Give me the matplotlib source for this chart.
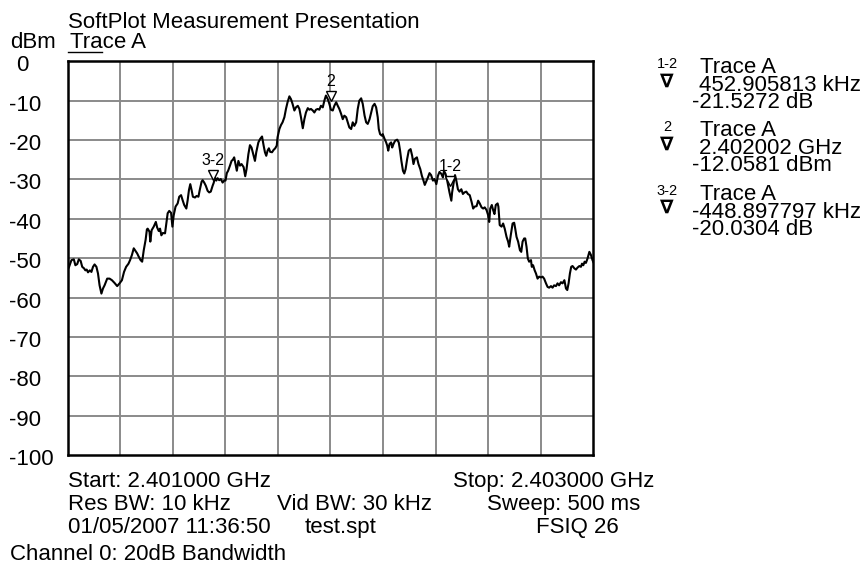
import matplotlib
matplotlib.use("Agg")
import matplotlib.pyplot as plt
from matplotlib.transforms import offset_copy, blended_transform_factory
from matplotlib.lines import Line2D
import numpy as np

plt.rcParams['font.family'] = ['Liberation Sans', 'DejaVu Sans']

# ---------------- data ----------------
start_mhz = 2401.0
stop_mhz = 2403.0

freq_offset_mhz = [
    0.000, 0.005, 0.015, 0.024, 0.030, 0.037, 0.043, 0.050, 0.056, 0.063,
    0.068, 0.073, 0.078, 0.085, 0.091, 0.097, 0.103, 0.110, 0.116, 0.122,
    0.129, 0.135, 0.141, 0.151, 0.160, 0.169, 0.179, 0.189, 0.198, 0.207,
    0.215, 0.223, 0.232, 0.238, 0.245, 0.252, 0.259, 0.265, 0.270, 0.278,
    0.284, 0.290, 0.297, 0.302, 0.305, 0.312, 0.315, 0.320, 0.328, 0.336,
    0.341, 0.347, 0.352, 0.357, 0.363, 0.371, 0.376, 0.381, 0.387, 0.394,
    0.399, 0.404, 0.411, 0.419, 0.425, 0.432, 0.438, 0.444, 0.452, 0.457,
    0.462, 0.467, 0.472, 0.477, 0.485, 0.491, 0.498, 0.503, 0.510, 0.514,
    0.520, 0.526, 0.533, 0.539, 0.545, 0.552, 0.556, 0.561, 0.566, 0.571,
    0.577, 0.583, 0.590, 0.596, 0.601, 0.606, 0.611, 0.618, 0.624, 0.629,
    0.634, 0.639, 0.644, 0.650, 0.656, 0.662, 0.670, 0.676, 0.681, 0.688,
    0.694, 0.700, 0.708, 0.713, 0.718, 0.726, 0.733, 0.740, 0.746, 0.751,
    0.756, 0.761, 0.766, 0.771, 0.778, 0.784, 0.790, 0.796, 0.799, 0.806,
    0.812, 0.818, 0.825, 0.831, 0.837, 0.844, 0.850, 0.856, 0.863, 0.869,
    0.876, 0.882, 0.888, 0.895, 0.901, 0.907, 0.914, 0.920, 0.926, 0.933,
    0.939, 0.945, 0.952, 0.958, 0.964, 0.971, 0.977, 0.983, 0.990, 0.996,
    1.002, 1.009, 1.015, 1.022, 1.028, 1.034, 1.041, 1.047, 1.053, 1.060,
    1.066, 1.072, 1.079, 1.085, 1.091, 1.098, 1.104, 1.110, 1.117, 1.123,
    1.130, 1.136, 1.142, 1.149, 1.155, 1.161, 1.168, 1.174, 1.180, 1.184,
    1.189, 1.196, 1.199, 1.206, 1.212, 1.216, 1.220, 1.225, 1.231, 1.235,
    1.240, 1.246, 1.254, 1.260, 1.265, 1.270, 1.276, 1.281, 1.286, 1.292,
    1.298, 1.305, 1.311, 1.316, 1.321, 1.329, 1.335, 1.342, 1.348, 1.354,
    1.359, 1.364, 1.371, 1.377, 1.383, 1.390, 1.396, 1.403, 1.409, 1.415,
    1.422, 1.428, 1.432, 1.438, 1.443, 1.448, 1.453, 1.460, 1.463, 1.469,
    1.474, 1.479, 1.485, 1.491, 1.498, 1.504, 1.510, 1.517, 1.523, 1.530,
    1.537, 1.543, 1.549, 1.556, 1.562, 1.568, 1.575, 1.581, 1.587, 1.594,
    1.600, 1.604, 1.608, 1.614, 1.619, 1.624, 1.629, 1.636, 1.639, 1.644,
    1.651, 1.657, 1.663, 1.670, 1.676, 1.680, 1.686, 1.693, 1.699, 1.703,
    1.708, 1.714, 1.721, 1.726, 1.731, 1.737, 1.741, 1.746, 1.751, 1.756,
    1.763, 1.766, 1.771, 1.777, 1.782, 1.788, 1.794, 1.801, 1.807, 1.813,
    1.820, 1.826, 1.832, 1.839, 1.845, 1.851, 1.858, 1.864, 1.870, 1.877,
    1.883, 1.890, 1.896, 1.901, 1.906, 1.911, 1.916, 1.921, 1.928, 1.934,
    1.940, 1.947, 1.953, 1.957, 1.962, 1.967, 1.972, 1.978, 1.985, 1.991,
    1.997, 2.000,
]

level_dbm = [
    -52.9, -52.4, -50.5, -50.3, -51.8, -51.5, -50.3, -50.7, -52.2, -52.6,
    -53.1, -52.9, -53.6, -53.1, -53.5, -52.2, -51.6, -52.2, -53.9, -56.9,
    -59.0, -57.7, -56.9, -55.2, -55.2, -55.6, -56.3, -57.1, -56.4, -55.6,
    -53.5, -52.2, -51.4, -50.5, -49.2, -47.5, -48.2, -48.8, -49.5, -50.5,
    -50.9, -48.0, -45.4, -42.7, -42.5, -43.3, -45.8, -42.9, -42.0, -40.8,
    -42.2, -43.1, -42.5, -44.2, -43.6, -43.7, -41.2, -38.6, -38.0, -38.5,
    -42.0, -39.1, -36.9, -36.1, -34.4, -34.0, -35.3, -36.5, -37.4, -35.3,
    -32.7, -31.2, -32.7, -34.4, -34.6, -34.2, -34.4, -32.7, -30.6, -30.2,
    -30.8, -31.6, -32.9, -33.3, -33.1, -31.6, -30.9, -29.5, -30.3, -29.7,
    -30.2, -29.9, -30.8, -30.3, -30.3, -28.4, -27.8, -26.5, -25.3, -25.0,
    -24.4, -26.1, -27.8, -25.3, -26.5, -26.1, -26.9, -29.2, -27.4, -23.6,
    -21.3, -21.9, -24.0, -25.3, -23.1, -20.6, -19.7, -19.1, -21.4, -23.1,
    -24.0, -22.7, -22.1, -23.0, -23.1, -22.5, -22.1, -21.4, -19.3, -17.2,
    -16.2, -15.5, -14.2, -12.1, -10.4, -8.9, -9.6, -10.8, -12.5, -11.7,
    -11.3, -12.1, -14.2, -17.0, -14.7, -13.0, -11.9, -12.3, -12.1, -12.5,
    -13.0, -12.3, -12.1, -12.3, -11.3, -11.7, -10.0, -8.7, -9.6, -10.8,
    -12.3, -12.5, -11.3, -10.4, -11.3, -12.1, -13.4, -14.7, -13.8, -14.2,
    -15.5, -16.8, -17.2, -15.5, -16.4, -15.5, -12.1, -10.0, -9.4, -10.8,
    -13.8, -15.5, -15.9, -14.7, -13.0, -11.4, -10.8, -11.7, -14.2, -17.2,
    -18.5, -18.9, -18.5, -19.7, -20.6, -21.4, -22.7, -21.0, -20.6, -21.9,
    -21.0, -20.2, -19.9, -20.6, -22.7, -25.3, -27.8, -28.5, -27.4, -24.8,
    -22.7, -22.3, -24.0, -26.1, -24.8, -24.4, -26.1, -27.4, -29.1, -30.3,
    -31.4, -30.6, -29.5, -28.4, -28.9, -30.3, -29.9, -31.2, -29.1, -28.1,
    -28.6, -29.5, -27.8, -28.6, -29.9, -31.6, -33.3, -35.4, -33.3, -30.8,
    -28.9, -30.3, -32.5, -33.1, -32.5, -33.7, -33.3, -33.1, -33.7, -34.0,
    -35.7, -37.4, -36.9, -36.8, -35.4, -36.1, -37.1, -37.4, -37.1, -37.8,
    -39.1, -40.8, -37.4, -36.5, -37.8, -38.8, -36.5, -36.1, -36.9, -41.6,
    -42.0, -41.2, -42.5, -44.6, -45.8, -47.1, -44.2, -41.2, -41.0, -42.5,
    -44.6, -45.8, -48.0, -48.4, -45.8, -45.0, -45.0, -47.1, -50.1, -50.9,
    -50.5, -52.2, -51.8, -53.1, -53.9, -55.2, -54.7, -54.9, -54.7, -55.2,
    -56.4, -57.3, -57.5, -57.1, -57.5, -56.9, -57.1, -56.4, -56.9, -56.1,
    -56.4, -55.6, -57.7, -58.1, -56.4, -53.9, -52.2, -52.0, -52.6, -52.9,
    -52.4, -52.0, -52.2, -51.4, -51.8, -50.9, -51.2, -50.1, -48.4, -49.2,
    -50.5, -51.0,
]

marker_names = ["1-2", "2", "3-2"]
marker_freq_mhz = [2402.455, 2402.002, 2401.553]
marker_level_dbm = [-33.585, -12.058, -32.089]

readout_line1 = ["Trace A", "Trace A", "Trace A"]
readout_line2 = ["452.905813 kHz", "2.402002 GHz", "-448.897797 kHz"]
readout_line3 = ["-21.5272 dB", "-12.0581 dBm", "-20.0304 dB"]

y_ticks = [0, -10, -20, -30, -40, -50, -60, -70, -80, -90, -100]
x_divisions = 10

title_text = "SoftPlot Measurement Presentation"
unit_text = "dBm"
trace_text = "Trace A"
info_left = ["Start: 2.401000 GHz", "Res BW: 10 kHz", "01/05/2007 11:36:50"]
info_mid = ["Vid BW: 30 kHz", "test.spt"]
info_right = ["Stop: 2.403000 GHz", "Sweep: 500 ms", "FSIQ 26"]
footer_text = "Channel 0: 20dB Bandwidth"

# ---------------- figure ----------------
W, H = 866, 567
fig = plt.figure(figsize=(W / 100, H / 100), dpi=100)

def P(x, y):
    return (x / W, 1 - y / H)

ax_l, ax_r, ax_t, ax_b = 67.5, 593.3, 61.3, 455.0
ax = fig.add_axes([ax_l / W, 1 - ax_b / H, (ax_r - ax_l) / W, (ax_b - ax_t) / H])
ax.set_xlim(start_mhz, stop_mhz)
ax.set_ylim(-100, 0)

# grid
xs = np.linspace(start_mhz, stop_mhz, x_divisions + 1)
for xv in xs[1:-1]:
    ax.axvline(xv, color='#8a8a8a', lw=1.4, zorder=1)
for yv in y_ticks[1:-1]:
    ax.axhline(yv, color='#8a8a8a', lw=1.4, zorder=1)
ax.set_xticks([])
ax.set_yticks([])
for s in ax.spines.values():
    s.set_linewidth(1.8)
    s.set_color('black')
    s.set_zorder(5)

# trace
fx = [start_mhz + f for f in freq_offset_mhz]
ax.plot(fx, level_dbm, color='black', lw=1.5, zorder=3, solid_joinstyle='round')

# markers
tri_tr = offset_copy(ax.transData, fig=fig, x=0, y=12.6, units='dots')
ax.plot(marker_freq_mhz, marker_level_dbm, linestyle='none', marker='v', ms=6.5,
        mfc='white', mec='black', mew=1.0, transform=tri_tr, zorder=4, clip_on=False)
for name, mf, ml in zip(marker_names, marker_freq_mhz, marker_level_dbm):
    ax.annotate(name, (mf, ml), xytext=(0, 27), textcoords='offset pixels',
                ha='center', va='center', fontsize=11.5, zorder=4)

# y labels
ylab_tr = offset_copy(blended_transform_factory(fig.transFigure, ax.transData),
                      fig=fig, x=0, y=-4.5, units='dots')
for yv in y_ticks:
    lab = str(yv)
    xpos = 9.3 if lab.startswith('-') else 15.7
    fig.text(xpos / W, yv, lab, transform=ylab_tr, ha='left', va='center', fontsize=16)

# header texts
fs = 16
fig.text(*P(68, 28.5), title_text, ha='left', va='baseline', fontsize=fs)
fig.text(*P(10, 48), unit_text, ha='left', va='baseline', fontsize=fs)
fig.text(*P(70, 48), trace_text, ha='left', va='baseline', fontsize=fs)
fig.add_artist(Line2D([68 / W, 102 / W], [1 - 52 / H, 1 - 52 / H], color='black', lw=1.0))

# bottom info
base_rows = [486.7, 510.0, 533.3]
for i, t in enumerate(info_left):
    fig.text(*P(68.3, base_rows[i]), t, ha='left', va='baseline', fontsize=fs)
fig.text(*P(277.4, base_rows[1]), info_mid[0], ha='left', va='baseline', fontsize=fs)
fig.text(*P(305, base_rows[2]), info_mid[1], ha='left', va='baseline', fontsize=fs)
right_x = [453.3, 486.7, 536.0]
for i, t in enumerate(info_right):
    fig.text(*P(right_x[i], base_rows[i]), t, ha='left', va='baseline', fontsize=fs)
fig.text(*P(10, 560), footer_text, ha='left', va='baseline', fontsize=fs)

# marker readouts
for k in range(3):
    base = 73.0 + 63.3 * k
    fig.text(*P(667, base - 5), marker_names[k], ha='center', va='baseline', fontsize=10.5)
    fig.text(*P(666.7, base + 8), "\u2207", ha='center', va='center', fontsize=14,
             family=['DejaVu Sans'], fontweight='bold')
    fig.text(*P(700, base), readout_line1[k], ha='left', va='baseline', fontsize=fs)
    for j, t in enumerate([readout_line2[k], readout_line3[k]]):
        xpos = 691.7 if t.startswith('-') else 699.0
        fig.text(*P(xpos, base + 18 + 17 * j), t, ha='left', va='baseline', fontsize=fs)

fig.savefig("out.png", dpi=100)
